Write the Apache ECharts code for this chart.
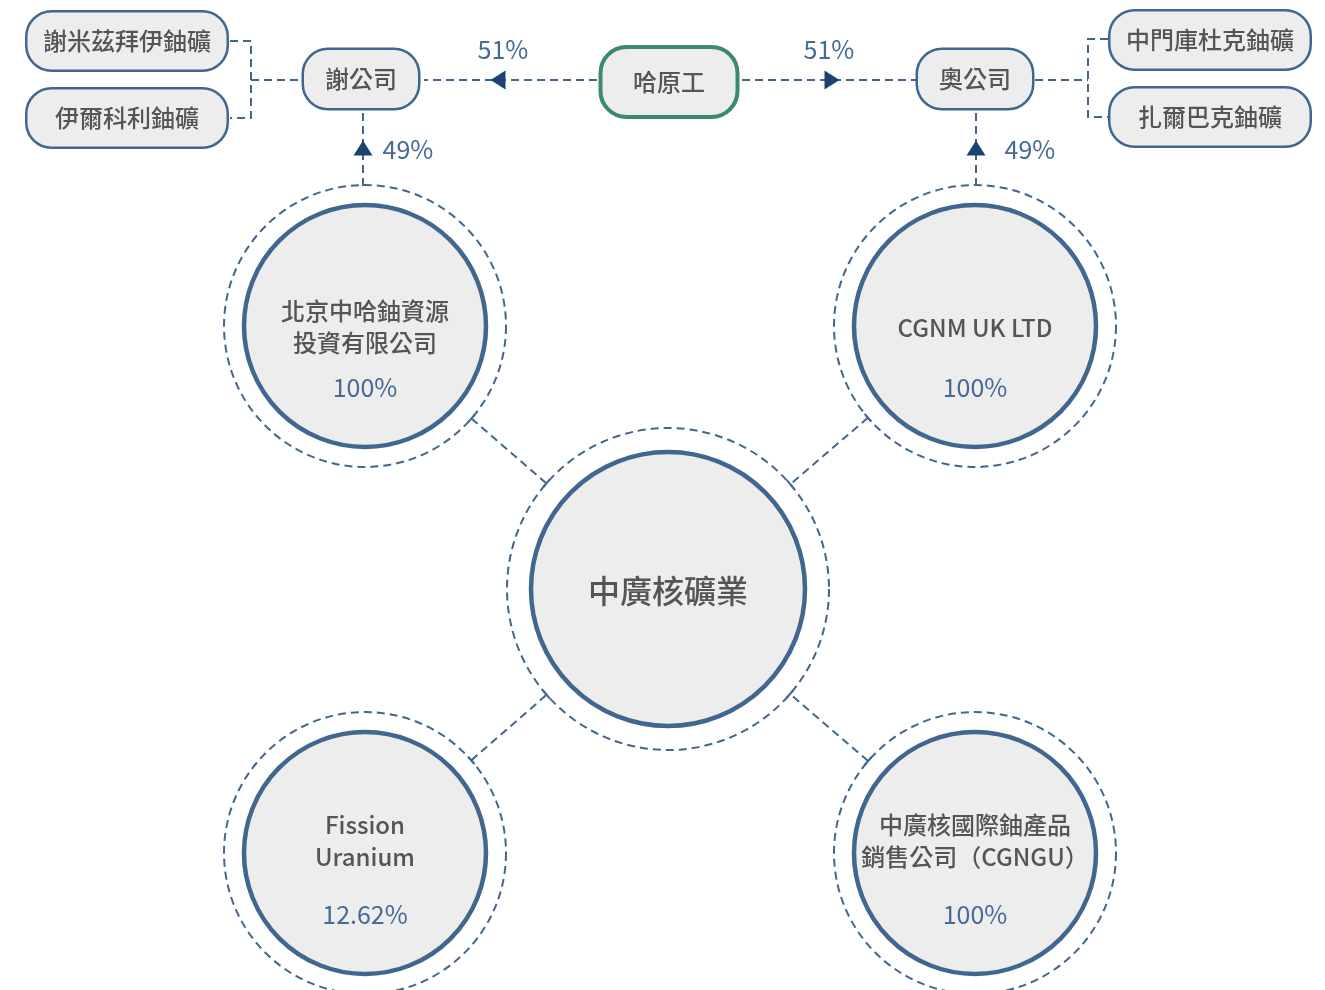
<!DOCTYPE html>
<html>
<head>
<meta charset="utf-8">
<script src="https://cdn.jsdelivr.net/npm/echarts@6/dist/echarts.min.js"></script>
<style>
  html, body { margin: 0; padding: 0; background: #fff; }
  #chart { width: 1325px; height: 990px; }
</style>
</head>
<body>
<div id="chart"></div>
<script>
// ---- content ----
const hubName = '中廣核礦業'
const subNames = ['北京中哈鈾資源\n投資有限公司', 'CGNM UK LTD', 'Fission\nUranium', '中廣核國際鈾產品\n銷售公司（CGNGU）']
const subShares = ['100%', '100%', '12.62%', '100%']
const partnerName = '哈原工'
const jvNames = ['謝公司', '奧公司']
const partnerShares = ['51%', '51%']
const jvShares = ['49%', '49%']
const mineNames = ['謝米茲拜伊鈾礦', '伊爾科利鈾礦', '中門庫杜克鈾礦', '扎爾巴克鈾礦']

// ---- layout (pixels of the 1325 x 990 frame) ----
const hubPos = [668, 589]
const subPos = [[365, 326], [975, 326], [365, 853], [975, 853]]
const subNameDy = [1, 2, -12, -12]
const partnerPos = [669, 82]
const jvPos = [[361, 79], [975, 79]]
const minePos = [[127, 41], [127, 118], [1210, 40], [1210, 117]]
const partnerSharePos = [[503, 49], [829, 49]]
const jvSharePos = [[408, 149], [1030, 149]]
const arrowPos = [[498, 80, 90], [832, 80, -90], [363, 148, 0], [976, 148, 0]]

const INK = '#41668f'
const TEXT = '#555555'
const PCT = '#466a95'
const ARROW = '#1a4371'
const FONT = '"Noto Sans CJK TC", "Noto Sans", sans-serif'

const subR = 141, hubR = 161

function along(a, b, r) {
  const dx = b[0] - a[0], dy = b[1] - a[1]
  const L = Math.hypot(dx, dy)
  return [a[0] + dx / L * r, a[1] + dy / L * r]
}

// spokes between subsidiaries and hub, plus the small end ticks
const spokes = []
const ticks = []
subPos.forEach(p => {
  const a = along(p, hubPos, subR)
  const b = along(hubPos, p, hubR)
  spokes.push({ coords: [a, b] })
  const dx = b[0] - a[0], dy = b[1] - a[1], L = Math.hypot(dx, dy)
  const nx = -dy / L * 5, ny = dx / L * 5
  ;[a, b].forEach(c => ticks.push({ coords: [[c[0] - nx, c[1] - ny], [c[0] + nx, c[1] + ny]] }))
})

const connectors = [
  { coords: [[597, 80], [424, 80]] },
  { coords: [[742, 80], [916, 80]] },
  { coords: [[363, 186], [363, 113]] },
  { coords: [[976, 186], [976, 113]] },
  { coords: [[230, 41], [251, 41], [251, 118], [230, 118]] },
  { coords: [[251, 80], [302, 80]] },
  { coords: [[1108, 39], [1088, 39], [1088, 117], [1108, 117]] },
  { coords: [[1035, 80], [1088, 80]] }
]

function boxItem(name, pos, w, h, border, bw) {
  return {
    value: pos,
    label: {
      show: true, position: 'inside', formatter: name,
      width: w, height: h, lineHeight: h, align: 'center', verticalAlign: 'middle',
      backgroundColor: '#ededed', borderColor: border, borderWidth: bw, borderRadius: 24,
      color: TEXT, fontSize: 24, fontWeight: 500, fontFamily: FONT
    }
  }
}

function textItem(text, pos, color, size, dy) {
  return {
    value: pos,
    label: {
      show: true, position: 'inside', formatter: text, offset: [0, dy || 0],
      color: color, fontSize: size, fontWeight: 'normal', fontFamily: FONT, lineHeight: 32
    }
  }
}

const hidden = { color: 'rgba(0,0,0,0)', opacity: 1 }

const chart = echarts.init(document.getElementById('chart'))
chart.setOption({
  animation: false,
  backgroundColor: '#ffffff',
  grid: { left: 0, right: 0, top: 0, bottom: 0 },
  xAxis: { type: 'value', min: 0, max: 1325, show: false },
  yAxis: { type: 'value', min: 0, max: 990, inverse: true, show: false },
  series: [
    {
      type: 'lines', coordinateSystem: 'cartesian2d', polyline: true, silent: true,
      data: spokes.concat(connectors),
      lineStyle: { color: INK, width: 2, type: [8, 5], opacity: 1 }
    },
    {
      type: 'lines', coordinateSystem: 'cartesian2d', silent: true,
      data: ticks,
      lineStyle: { color: INK, width: 2, opacity: 1 }
    },
    {
      type: 'scatter', silent: true, symbol: 'circle', clip: false,
      data: subPos.map(p => ({ value: p, symbolSize: subR * 2 }))
        .concat([{ value: hubPos, symbolSize: hubR * 2 }]),
      itemStyle: { color: 'rgba(0,0,0,0)', borderColor: INK, borderWidth: 2, borderType: [8, 5], opacity: 1 }
    },
    {
      type: 'scatter', silent: true, symbol: 'circle', clip: false,
      data: subPos.map((p, i) => ({
        value: p, symbolSize: 242,
        label: { show: true, position: 'inside', formatter: subNames[i], offset: [0, subNameDy[i]],
          color: TEXT, fontSize: 24, fontWeight: 500, lineHeight: 32, fontFamily: FONT }
      })).concat([{
        value: hubPos, symbolSize: 274,
        label: { show: true, position: 'inside', formatter: hubName, offset: [0, 2],
          color: TEXT, fontSize: 32, fontWeight: 500, fontFamily: FONT }
      }]),
      itemStyle: { color: '#ededed', borderColor: INK, borderWidth: 4.5, opacity: 1 }
    },
    {
      type: 'scatter', silent: true, symbolSize: 1, itemStyle: hidden,
      data: subPos.map((p, i) => textItem(subShares[i], p, PCT, 25, 61))
        .concat(partnerSharePos.map((p, i) => textItem(partnerShares[i], p, PCT, 25)))
        .concat(jvSharePos.map((p, i) => textItem(jvShares[i], p, PCT, 25)))
    },
    {
      type: 'scatter', silent: true, symbolSize: 1, itemStyle: hidden,
      data: [boxItem(partnerName, partnerPos, 133, 66, '#3a8a6b', 4)]
        .concat(jvPos.map((p, i) => boxItem(jvNames[i], p, 114, 58, INK, 2.5)))
        .concat(minePos.map((p, i) => boxItem(mineNames[i], p, 199, 57, INK, 2.5)))
    },
    {
      type: 'scatter', silent: true, symbol: 'triangle', symbolSize: [19, 15],
      data: arrowPos.map(a => ({ value: [a[0], a[1]], symbolRotate: a[2] })),
      itemStyle: { color: ARROW, opacity: 1 }
    }
  ]
})
</script>
</body>
</html>
